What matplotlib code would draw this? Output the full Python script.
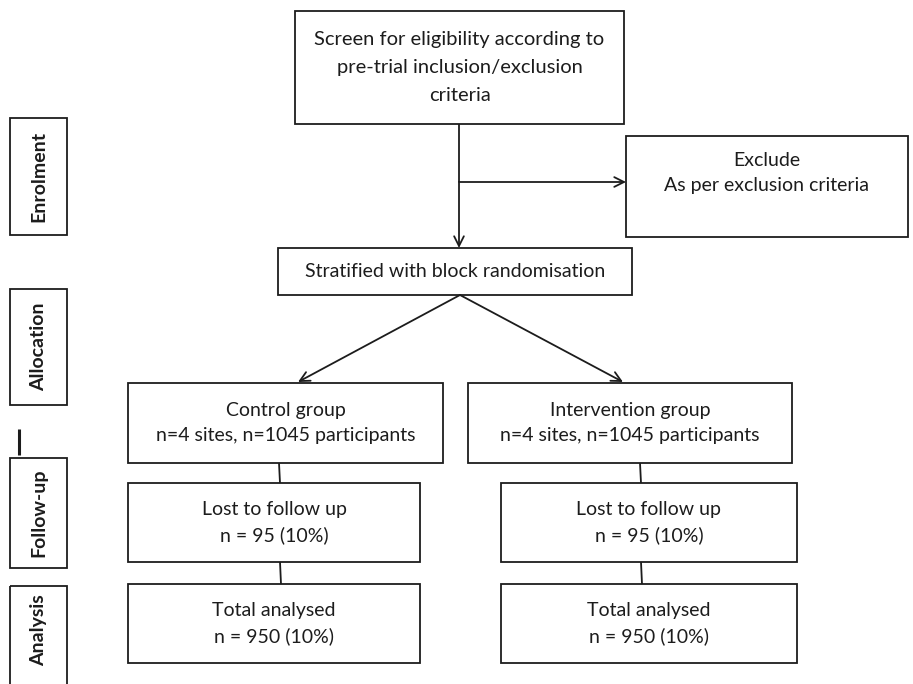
import matplotlib.pyplot as plt
from matplotlib.patches import Rectangle

plt.rcParams['font.family'] = ['Lato', 'DejaVu Sans']

# Texte des cases
phases = ['Enrolment', 'Allocation', 'Follow-up', 'Analysis']
screen_txt = 'Screen for eligibility according to\npre-trial inclusion/exclusion\ncriteria'
exclude_txt = 'Exclude\nAs per exclusion criteria\n '
random_txt = 'Stratified with block randomisation'
groups = ['Control group', 'Intervention group']
n_sites = [4, 4]
n_participants = [1045, 1045]
n_lost = [95, 95]
pct_lost = [10, 10]
n_analysed = [950, 950]
pct_analysed = [10, 10]

ink = '#1c1c1c'
lw = 1.3

fig = plt.figure(figsize=(9.13, 6.84), dpi=100)
ax = fig.add_axes([0, 0, 1, 1])
ax.set_xlim(0, 913)
ax.set_ylim(684, 0)
ax.axis('off')


def box(x0, y0, x1, y1, txt='', fs=14, dy=0, ls=1.6):
    ax.add_patch(Rectangle((x0, y0), x1 - x0, y1 - y0, fill=False,
                           ec=ink, lw=lw))
    if txt:
        ax.text((x0 + x1) / 2, (y0 + y1) / 2 + dy, txt, ha='center',
                va='center', fontsize=fs, color=ink, linespacing=ls)


def arrow(p0, p1):
    ax.annotate('', xy=p1, xytext=p0,
                arrowprops=dict(arrowstyle='->,head_length=0.7,head_width=0.35',
                                color=ink, lw=lw, shrinkA=0, shrinkB=0))


def line(p0, p1, w=lw):
    ax.plot([p0[0], p1[0]], [p0[1], p1[1]], color=ink, lw=w,
            solid_capstyle='butt')


# colonne des phases
phase_boxes = [(118, 235), (289, 405), (458, 568), (586, 720)]
for lab, (y0, y1) in zip(phases, phase_boxes):
    box(10, y0, 67, y1)
    yc = (y0 + y1) / 2 if y1 < 684 else 630
    ax.text(38.5, yc, lab, rotation=90, ha='center', va='center',
            fontsize=14, fontweight='bold', color=ink)
line((19, 429), (19, 455), w=2.2)

# partie haute
box(295, 11, 624, 124, screen_txt, fs=14.5, ls=1.78)
line((459, 124), (459, 182))
arrow((459, 182), (459, 248))
arrow((459, 182), (626, 182))
box(626, 136, 908, 237, exclude_txt, fs=14, dy=-1)
box(278, 248, 632, 295, random_txt, fs=14)

# deux bras
arrow((460, 295), (298, 382))
arrow((460, 295), (623, 382))

arms = [(128, 443, 128, 420, 279), (468, 792, 501, 797, 640)]
for i, (gx0, gx1, lx0, lx1, cx) in enumerate(arms):
    box(gx0, 383, gx1, 463,
        f'{groups[i]}\nn={n_sites[i]} sites, n={n_participants[i]} participants')
    line((cx, 463), (cx + 1, 483))
    box(lx0, 483, lx1, 562,
        f'Lost to follow up\nn = {n_lost[i]} ({pct_lost[i]}%)')
    line((cx + 1, 562), (cx + 2, 584))
    box(lx0, 584, lx1, 663,
        f'Total analysed\nn = {n_analysed[i]} ({pct_analysed[i]}%)')

plt.savefig('out.png', dpi=100)
